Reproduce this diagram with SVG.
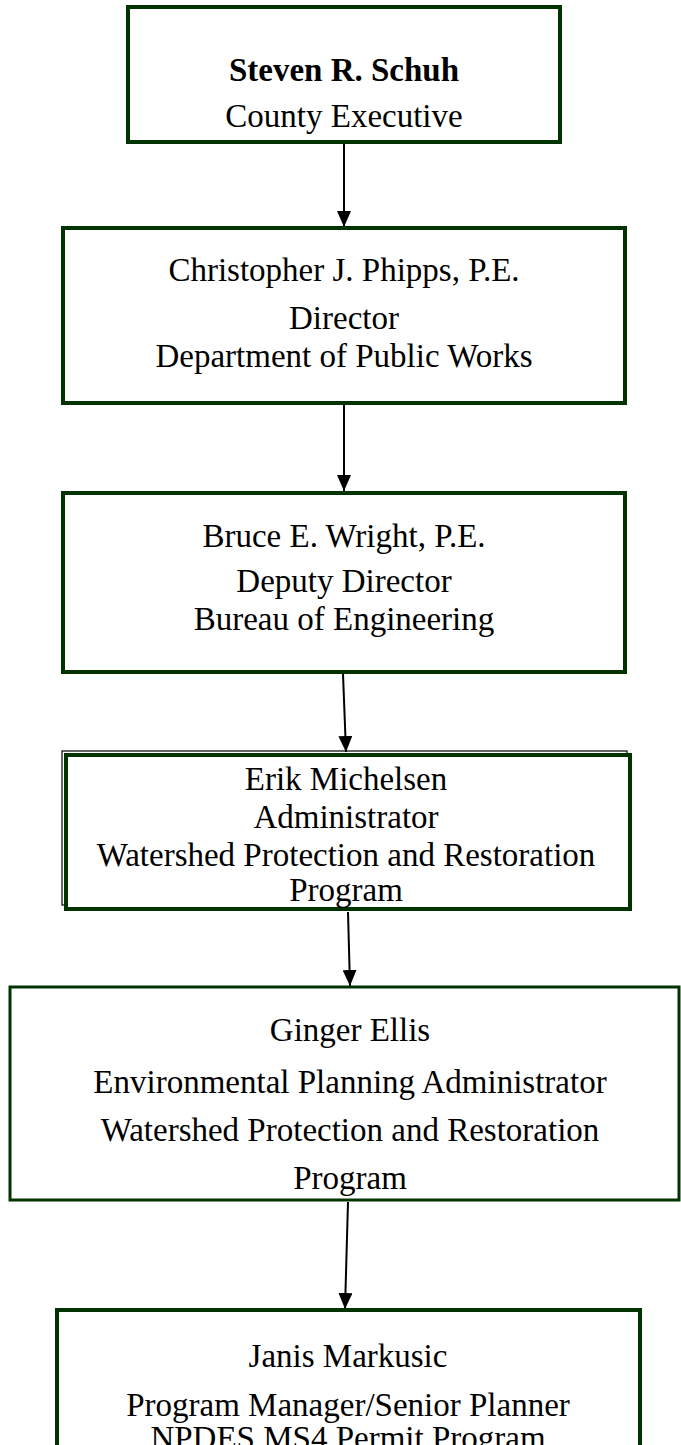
<svg xmlns="http://www.w3.org/2000/svg" width="681" height="1445" viewBox="0 0 681 1445">
<style>
.box{fill:#fff;stroke:#003300;stroke-width:4}
.thin{fill:none;stroke:#000;stroke-width:1.2}
.t{font-family:"Liberation Serif","Times New Roman",serif;font-size:33px;fill:#000;text-anchor:middle}
.b{font-weight:bold}
.c{stroke:#000;stroke-width:2;fill:none;marker-end:url(#ah)}
</style>
<defs>
<marker id="ah" markerWidth="16" markerHeight="14" refX="16" refY="7" orient="auto" markerUnits="userSpaceOnUse" viewBox="0 0 16 14">
<path d="M0,0 L16,7 L0,14 z" fill="#000"/>
</marker>
</defs>
<g id="connectors">
<line class="c" x1="344" y1="144" x2="344" y2="227"/>
<line class="c" x1="344" y1="405" x2="344" y2="491"/>
<line class="c" x1="343" y1="674" x2="346" y2="752"/>
<line class="c" x1="348" y1="912" x2="350" y2="986"/>
<line class="c" x1="348" y1="1202" x2="345" y2="1309"/>
</g>
<g id="n1">
<rect class="box" x="128" y="7" width="432" height="135"/>
<text class="t b" x="344" y="81">Steven R. Schuh</text>
<text class="t" x="344" y="127">County Executive</text>
</g>
<g id="n2">
<rect class="box" x="63" y="228" width="562" height="175"/>
<text class="t" x="344" y="281">Christopher J. Phipps, P.E.</text>
<text class="t" x="344" y="329">Director</text>
<text class="t" x="344" y="367">Department of Public Works</text>
</g>
<g id="n3">
<rect class="box" x="63" y="493" width="562" height="179"/>
<text class="t" x="344" y="547">Bruce E. Wright, P.E.</text>
<text class="t" x="344" y="592">Deputy Director</text>
<text class="t" x="344" y="630">Bureau of Engineering</text>
</g>
<g id="n4">
<rect class="thin" x="62" y="751" width="565" height="154"/>
<rect class="box" x="66" y="755" width="564" height="154"/>
<text class="t" x="346" y="790">Erik Michelsen</text>
<text class="t" x="346" y="828">Administrator</text>
<text class="t" x="346" y="866">Watershed Protection and Restoration</text>
<text class="t" x="346" y="901">Program</text>
</g>
<g id="n5">
<rect class="box" x="10" y="987" width="669" height="213" style="stroke-width:3"/>
<text class="t" x="350" y="1041">Ginger Ellis</text>
<text class="t" x="350" y="1093">Environmental Planning Administrator</text>
<text class="t" x="350" y="1141">Watershed Protection and Restoration</text>
<text class="t" x="350" y="1189">Program</text>
</g>
<g id="n6">
<path class="box" d="M57,1450 L57,1310 L640,1310 L640,1450"/>
<text class="t" x="348" y="1367">Janis Markusic</text>
<text class="t" x="348" y="1416">Program Manager/Senior Planner</text>
<text class="t" x="348" y="1449">NPDES MS4 Permit Program</text>
</g>
</svg>
